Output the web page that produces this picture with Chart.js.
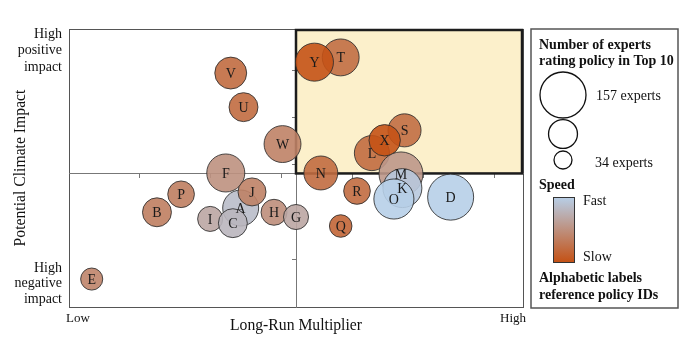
<!DOCTYPE html>
<html>
<head>
<meta charset="utf-8">
<script src="https://cdn.jsdelivr.net/npm/chart.js@4.4.0/dist/chart.umd.min.js"></script>
<style>
  html, body { margin: 0; padding: 0; background: #fff; }
</style>
</head>
<body>
<canvas id="myChart" width="687" height="345"></canvas>
<script>
// policies, listed in the order they get painted (later ones sit on top)
const policyIds     = ['T', 'Y', 'S', 'L', 'X', 'M', 'K', 'O', 'D', 'F', 'A', 'J', 'I', 'C', 'H', 'G', 'B', 'P', 'E', 'V', 'U', 'W', 'N', 'R', 'Q'];
const multiplier    = [3.83, 3.46, 4.73, 4.27, 4.45, 4.68, 4.70, 4.58, 5.38, 2.21, 2.42, 2.58, 1.99, 2.31, 2.89, 3.20, 1.24, 1.58, 0.32, 2.28, 2.46, 3.01, 3.55, 4.06, 3.83];
const climateImpact = [5.27, 5.17, 3.73, 3.25, 3.52, 2.81, 2.51, 2.28, 2.32, 2.83, 2.09, 2.43, 1.86, 1.77, 2.00, 1.90, 2.00, 2.38, 0.59, 4.94, 4.22, 3.44, 2.83, 2.45, 1.71];
const experts       = [117, 122, 100, 109, 93, 148, 126, 131, 157, 122, 113, 78, 65, 82, 69, 65, 82, 72, 52, 95, 82, 117, 104, 72, 54];
const speed         = [0.78, 1.0, 0.78, 0.8, 1.0, 0.45, 0.05, 0.0, 0.0, 0.5, 0.15, 0.62, 0.33, 0.2, 0.52, 0.33, 0.65, 0.65, 0.6, 0.8, 0.8, 0.62, 0.8, 0.8, 0.85]; // 0 fast, 1 slow

const xTicks = [1, 2, 3, 4, 5, 6];
const yTicks = [1, 2, 3, 4, 5];
const xMid = 3.2;
const yMid = 2.82;
const legendSizes = [157, 82, 34];

const fastColor = [183, 207, 232];
const slowColor = [196, 82, 22];

function speedColor(s, a) {
    const c = fastColor.map((v, i) => Math.round(v + (slowColor[i] - v) * s));
    return 'rgba(' + c[0] + ',' + c[1] + ',' + c[2] + ',' + a + ')';
}

function bubbleRadius(n) {
    return 9 + (n - 34) * 14 / 123;
}

const serif = '"Liberation Serif", "Times New Roman", serif';

const points = policyIds.map((id, i) => ({ x: multiplier[i], y: climateImpact[i], r: bubbleRadius(experts[i]) }));

const quadrantPlugin = {
    id: 'quadrant',
    beforeDraw(chart) {
        const ctx = chart.ctx;
        const a = chart.chartArea;
        const xs = chart.scales.x, ys = chart.scales.y;
        const qx = xs.getPixelForValue(xMid), qy = ys.getPixelForValue(yMid);
        ctx.save();
        ctx.fillStyle = '#fcf0cb';
        ctx.fillRect(qx, a.top, a.right - qx, qy - a.top);
        ctx.strokeStyle = '#555';
        ctx.lineWidth = 1;
        ctx.strokeRect(a.left + 0.5, a.top + 0.5, a.right - a.left, a.bottom - a.top);
        ctx.restore();
    },
    beforeDatasetsDraw(chart) {
        const ctx = chart.ctx;
        const a = chart.chartArea;
        const qx = chart.scales.x.getPixelForValue(xMid), qy = chart.scales.y.getPixelForValue(yMid);
        ctx.save();
        ctx.strokeStyle = '#1c1c1c';
        ctx.lineWidth = 2.5;
        ctx.strokeRect(qx, a.top + 1, a.right - qx - 1, qy - a.top - 1);
        ctx.restore();
    },
    afterDatasetsDraw(chart) {
        const ctx = chart.ctx;
        const meta = chart.getDatasetMeta(0);
        ctx.save();
        ctx.font = '14px ' + serif;
        ctx.fillStyle = '#1a1a1a';
        ctx.textAlign = 'center';
        ctx.textBaseline = 'middle';
        meta.data.forEach((el, i) => {
            ctx.fillText(policyIds[i], el.x, el.y + 1);
        });
        ctx.restore();
    },
    afterDraw(chart) {
        const ctx = chart.ctx;
        const a = chart.chartArea;
        ctx.save();
        ctx.fillStyle = '#111';

        // axis side labels
        ctx.font = '14px ' + serif;
        ctx.textAlign = 'right';
        ctx.textBaseline = 'middle';
        ['High', 'positive', 'impact'].forEach((t, i) => ctx.fillText(t, a.left - 7, 34 + i * 16.5));
        ['High', 'negative', 'impact'].forEach((t, i) => ctx.fillText(t, a.left - 7, 268 + i * 15.5));

        ctx.font = '13px ' + serif;
        ctx.textAlign = 'center';
        ctx.fillText('Low', a.left + 9, a.bottom + 12);
        ctx.fillText('High', a.right - 10, a.bottom + 12);

        ctx.font = '15.7px ' + serif;
        ctx.fillText('Long-Run Multiplier', (a.left + a.right) / 2, a.bottom + 19);

        ctx.save();
        ctx.translate(21, 168);
        ctx.rotate(-Math.PI / 2);
        ctx.fillText('Potential Climate Impact', 0, 0);
        ctx.restore();

        // legend panel
        ctx.strokeStyle = '#555';
        ctx.lineWidth = 1.5;
        ctx.strokeRect(531, 29, 147, 279);

        ctx.textAlign = 'left';
        ctx.font = 'bold 14px ' + serif;
        ctx.fillText('Number of experts', 539, 45);
        ctx.fillText('rating policy in Top 10', 539, 61);

        const circleY = [95, 134, 160];
        ctx.strokeStyle = '#111';
        ctx.lineWidth = 1.3;
        legendSizes.forEach((n, i) => {
            ctx.beginPath();
            ctx.arc(563, circleY[i], bubbleRadius(n), 0, Math.PI * 2);
            ctx.stroke();
        });
        ctx.font = '14px ' + serif;
        ctx.fillText(legendSizes[0] + ' experts', 596, 96);
        ctx.fillText(legendSizes[2] + ' experts', 595, 163);

        ctx.font = 'bold 14px ' + serif;
        ctx.fillText('Speed', 539, 185);

        const grad = ctx.createLinearGradient(0, 197, 0, 262);
        grad.addColorStop(0, speedColor(0, 1));
        grad.addColorStop(1, speedColor(1, 1));
        ctx.fillStyle = grad;
        ctx.fillRect(553, 197, 21, 65);
        ctx.strokeStyle = '#333';
        ctx.lineWidth = 1;
        ctx.strokeRect(553.5, 197.5, 21, 65);

        ctx.fillStyle = '#111';
        ctx.font = '14px ' + serif;
        ctx.fillText('Fast', 583, 201);
        ctx.fillText('Slow', 583, 257);

        ctx.font = 'bold 14px ' + serif;
        ctx.fillText('Alphabetic labels', 539, 278);
        ctx.fillText('reference policy IDs', 539, 295);
        ctx.restore();
    }
};

const ctx = document.getElementById('myChart').getContext('2d');
const myChart = new Chart(ctx, {
    type: 'bubble',
    data: {
        datasets: [{
            label: 'Policies',
            data: points,
            backgroundColor: speed.map(s => speedColor(s, 0.9)),
            borderColor: 'rgba(45,45,45,0.85)',
            borderWidth: 1
        }]
    },
    options: {
        responsive: false,
        devicePixelRatio: 1,
        animation: false,
        events: [],
        layout: { padding: { left: 69, top: 29, right: 164, bottom: 38 } },
        plugins: {
            legend: { display: false },
            tooltip: { enabled: false }
        },
        scales: {
            x: {
                type: 'linear',
                min: 0,
                max: 6.4,
                position: { y: yMid },
                ticks: { display: false },
                grid: { drawOnChartArea: false, tickLength: 4, color: '#777' },
                border: { color: '#777', width: 1 },
                afterBuildTicks: s => { s.ticks = xTicks.map(v => ({ value: v })); }
            },
            y: {
                type: 'linear',
                min: 0,
                max: 5.87,
                position: { x: xMid },
                ticks: { display: false },
                grid: { drawOnChartArea: false, tickLength: 4, color: '#777' },
                border: { color: '#777', width: 1 },
                afterBuildTicks: s => { s.ticks = yTicks.map(v => ({ value: v })); }
            }
        }
    },
    plugins: [quadrantPlugin]
});
</script>
</body>
</html>
